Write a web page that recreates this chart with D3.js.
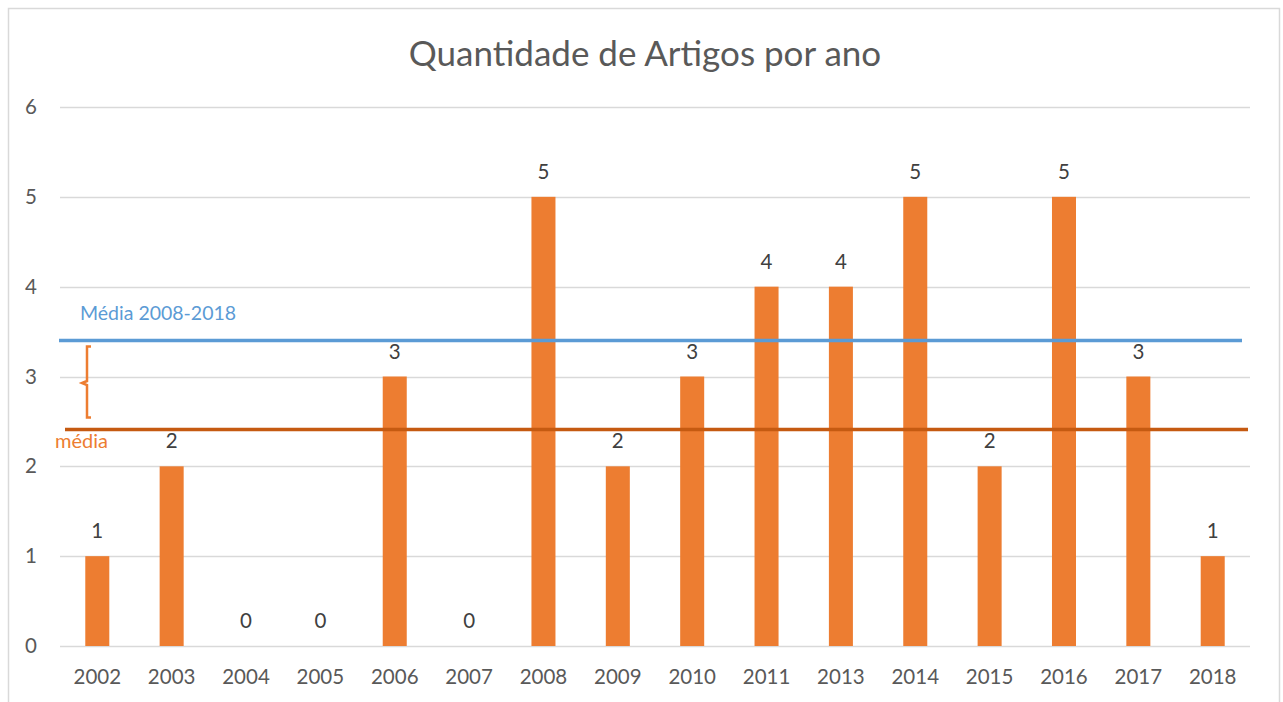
<!DOCTYPE html>
<html>
<head>
<meta charset="utf-8">
<script src="https://cdn.jsdelivr.net/npm/d3@7"></script>
<style>
  body { margin: 0; background: #fff; }
  svg { display: block; font-family: Lato, "Open Sans", sans-serif; }
</style>
</head>
<body>
<div id="chart"></div>
<script>
// dados
var anos = ["2002","2003","2004","2005","2006","2007","2008","2009","2010","2011","2013","2014","2015","2016","2017","2018"];
var artigos = [1, 2, 0, 0, 3, 0, 5, 2, 3, 4, 4, 5, 2, 5, 3, 1];
var yTicks = [0, 1, 2, 3, 4, 5, 6];
var mediaTotal = 2.41;      // linha "média"
var mediaRecente = 3.4;     // linha "Média 2008-2018"

var W = 1283, H = 702;
var margin = {left: 60, right: 33, top: 107, bottom: 56};

var svg = d3.select("#chart").append("svg").attr("width", W).attr("height", H);

// moldura do gráfico
svg.append("rect").attr("x", 8.5).attr("y", 8.5).attr("width", 1271).attr("height", 720)
    .attr("fill", "#fff").attr("stroke", "#d9d9d9").attr("stroke-width", 1.5);

var x = d3.scaleBand().domain(anos).range([margin.left, W - margin.right]).paddingInner(0.677).paddingOuter(0.34);
var y = d3.scaleLinear().domain([0, 6]).range([H - margin.bottom, margin.top]);

// título
svg.append("text").attr("x", 645).attr("y", 66).attr("text-anchor", "middle")
    .attr("fill", "#595959").style("font-size", "35px").text("Quantidade de Artigos por ano");

// grade
svg.append("g").selectAll("line").data(yTicks).enter().append("line")
    .attr("x1", margin.left).attr("x2", W - margin.right)
    .attr("y1", d => Math.round(y(d)) + 0.5).attr("y2", d => Math.round(y(d)) + 0.5)
    .attr("stroke", "#d9d9d9").attr("stroke-width", 1.5);

// eixo y
var yAxis = svg.append("g").attr("transform", "translate(" + (margin.left - 23) + ",0)")
    .call(d3.axisLeft(y).tickValues(yTicks).tickFormat(d3.format("d")).tickSize(0).tickPadding(0));
yAxis.select(".domain").remove();
yAxis.selectAll("text").attr("fill", "#595959").style("font-size", "20.5px").style("font-family", "Lato, sans-serif");

// eixo x
var xAxis = svg.append("g").attr("transform", "translate(0," + (H - margin.bottom) + ")")
    .call(d3.axisBottom(x).tickSize(0).tickPadding(23));
xAxis.select(".domain").remove();
xAxis.selectAll("text").attr("fill", "#595959").style("font-size", "20.5px").style("font-family", "Lato, sans-serif");

// barras
svg.append("g").selectAll("rect").data(anos).enter().append("rect")
    .attr("x", d => x(d)).attr("width", x.bandwidth())
    .attr("y", (d, i) => y(artigos[i])).attr("height", (d, i) => y(0) - y(artigos[i]))
    .attr("fill", "#ed7d31");

// rótulos
svg.append("g").selectAll("text").data(anos).enter().append("text")
    .attr("x", d => x(d) + x.bandwidth() / 2).attr("y", (d, i) => y(artigos[i]) - 18)
    .attr("text-anchor", "middle").attr("fill", "#404040").style("font-size", "20.5px")
    .text((d, i) => artigos[i]);

// linhas de média
svg.append("line").attr("x1", 59).attr("x2", 1242)
    .attr("y1", y(mediaRecente)).attr("y2", y(mediaRecente))
    .attr("stroke", "#5b9bd5").attr("stroke-width", 3.5);
svg.append("line").attr("x1", 65).attr("x2", 1248)
    .attr("y1", y(mediaTotal)).attr("y2", y(mediaTotal))
    .attr("stroke", "#c55a11").attr("stroke-width", 3.5);

svg.append("text").attr("x", 80).attr("y", 320).attr("fill", "#5b9bd5")
    .style("font-size", "19.5px").text("Média 2008-2018");
svg.append("text").attr("x", 55).attr("y", 448).attr("fill", "#ed7d31")
    .style("font-size", "20px").text("média");

// chave
var b0 = y(mediaRecente) + 6, b1 = y(mediaTotal) - 12, bm = (b0 + b1) / 2 + 1;
svg.append("path")
    .attr("d", "M91," + b0 + " L87," + b0 + " L87," + (bm - 2) + " L82," + bm + " L87," + (bm + 2) +
               " L87," + b1 + " L91," + b1)
    .attr("fill", "none").attr("stroke", "#ed7d31").attr("stroke-width", 2.5);
</script>
</body>
</html>
